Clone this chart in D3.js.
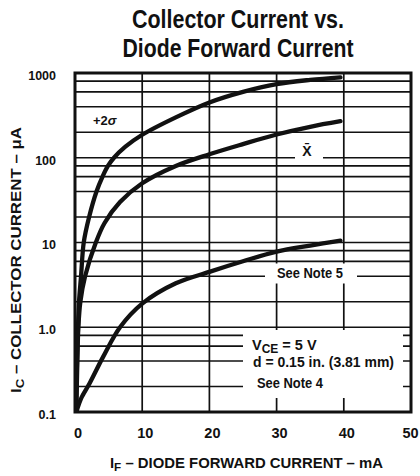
<!DOCTYPE html>
<html><head><meta charset="utf-8">
<script src="https://cdn.jsdelivr.net/npm/d3@7"></script>
<style>body{margin:0;background:#fff}svg{display:block}text{font-family:"Liberation Sans",Arial,sans-serif;fill:#111}</style>
</head><body><svg id="c" width="420" height="476"></svg>
<script>
// ---- data ----
const xTickValues = [0, 10, 20, 30, 40, 50];
const xTickLabels = ["0", "10", "20", "30", "40", "50"];
const yTickValues = [0.1, 1, 10, 100, 1000];
const yTickLabels = ["0.1", "1.0", "10", "100", "1000"];
const decadeStarts = [0.1, 1, 10, 100];
const gridMultipliers = [1, 2, 4, 6, 8];
const xGridValues = [10, 20, 30, 40];

// +2 sigma curve (IF mA, IC uA)
const ifPlus2Sigma = [0.15, 0.3, 0.45, 0.6, 0.9, 1.3, 2.1, 3.2, 4.1, 4.9, 5.8, 7.5, 10, 15, 20, 25, 30, 35, 39.5];
const icPlus2Sigma = [0.1, 0.4, 1.0, 2.0, 4, 10, 20, 40, 60, 80, 100, 135, 187, 300, 450, 600, 740, 830, 890];
// mean curve
const ifMean = [0.2, 0.35, 0.5, 0.8, 1.5, 3.1, 4.4, 6.7, 10, 15, 20, 25, 30, 35, 39.5];
const icMean = [0.1, 0.4, 1.0, 2.0, 4.0, 10, 17, 30, 50, 80, 110, 145, 188, 232, 270];
// lower curve
const ifLow = [0.2, 0.6, 1.0, 2.2, 4.2, 6.7, 10, 15, 20, 25, 30, 35, 39.5];
const icLow = [0.1, 0.125, 0.15, 0.22, 0.45, 1.0, 1.9, 3.3, 4.5, 6.0, 7.8, 9.2, 10.5];

// ---- chart ----
const svg = d3.select("#c");
const x = d3.scaleLinear().domain([0, 50]).range([75, 411]);
const y = d3.scaleLog().domain([0.1, 1000]).range([412, 73]);
const ink = "#111";
const font = '"Liberation Sans",Arial,sans-serif';

// horizontal grid
const hVals = [];
decadeStarts.forEach(d => gridMultipliers.forEach(m => hVals.push(d * m)));
svg.append("g").selectAll("line").data(hVals).join("line")
  .attr("x1", x(0)).attr("x2", x(50))
  .attr("y1", d => y(d)).attr("y2", d => y(d))
  .attr("stroke", ink).attr("stroke-width", 1.7);
// vertical grid
svg.append("g").selectAll("line").data(xGridValues).join("line")
  .attr("x1", d => x(d)).attr("x2", d => x(d))
  .attr("y1", y(0.1)).attr("y2", y(1000))
  .attr("stroke", ink).attr("stroke-width", 1.7);

// white label boxes cutting the grid
const masks = svg.append("g").attr("fill", "#fff");
masks.append("rect").attr("x", 295).attr("y", 150).attr("width", 28).attr("height", 11);   // X-bar
masks.append("rect").attr("x", 265).attr("y", 263.5).attr("width", 92).attr("height", 20); // note 5
masks.append("rect").attr("x", 243).attr("y", 330).attr("width", 160).attr("height", 68);  // conditions

// border
svg.append("rect").attr("x", x(0)).attr("y", y(1000))
  .attr("width", x(50) - x(0)).attr("height", y(0.1) - y(1000))
  .attr("fill", "none").attr("stroke", ink).attr("stroke-width", 3);

// curves
svg.append("clipPath").attr("id", "clip").append("rect")
  .attr("x", x(0)).attr("y", y(1000)).attr("width", x(50) - x(0)).attr("height", y(0.1) - y(1000));
const line = d3.line().x(d => x(d[0])).y(d => y(d[1])).curve(d3.curveCatmullRom.alpha(0.5));
const series = [
  d3.zip(ifPlus2Sigma, icPlus2Sigma),
  d3.zip(ifMean, icMean),
  d3.zip(ifLow, icLow)
];
svg.append("g").attr("clip-path", "url(#clip)").selectAll("path").data(series).join("path")
  .attr("d", line).attr("fill", "none").attr("stroke", ink)
  .attr("stroke-width", 4.3).attr("stroke-linecap", "round");

// axes labels
const xAxis = svg.append("g").attr("transform", `translate(0,${y(0.1)})`)
  .call(d3.axisBottom(x).tickValues(xTickValues).tickFormat((d, i) => xTickLabels[i]).tickSize(0).tickPadding(16));
xAxis.select(".domain").remove();
xAxis.selectAll("text").attr("font-size", 14.5).attr("font-weight", "bold")
  .attr("dx", d => d === 50 ? -1 : 2.5)
  .attr("fill", ink).style("font-family", font);

const yAxis = svg.append("g").attr("transform", `translate(${x(0)},0)`)
  .call(d3.axisLeft(y).tickValues(yTickValues).tickFormat((d, i) => yTickLabels[i]).tickSize(0).tickPadding(19));
yAxis.select(".domain").remove();
yAxis.selectAll("text").attr("font-size", 12.5).attr("font-weight", "bold").attr("dy", "0.5em")
  .attr("fill", ink).style("font-family", font);

// title
svg.append("text").attr("x", 238).attr("y", 28).attr("text-anchor", "middle")
  .attr("font-size", 25).attr("font-weight", "bold")
  .attr("textLength", 212).attr("lengthAdjust", "spacingAndGlyphs").text("Collector Current vs.");
svg.append("text").attr("x", 238).attr("y", 56.5).attr("text-anchor", "middle")
  .attr("font-size", 25).attr("font-weight", "bold")
  .attr("textLength", 231).attr("lengthAdjust", "spacingAndGlyphs").text("Diode Forward Current");

// x title
const xt = svg.append("text").attr("x", 110).attr("y", 467.5)
  .attr("font-size", 14).attr("font-weight", "bold")
  .attr("textLength", 273).attr("lengthAdjust", "spacingAndGlyphs");
xt.append("tspan").text("I");
xt.append("tspan").attr("font-size", 11).attr("dy", 3).text("F");
xt.append("tspan").attr("dy", -3).text(" – DIODE FORWARD CURRENT – mA");

// y title
const yt = svg.append("text").attr("transform", "translate(21,393) rotate(-90)")
  .attr("x", 0).attr("y", 0)
  .attr("font-size", 14).attr("font-weight", "bold")
  .attr("textLength", 266).attr("lengthAdjust", "spacingAndGlyphs");
yt.append("tspan").text("I");
yt.append("tspan").attr("font-size", 11).attr("dy", 3).text("C");
yt.append("tspan").attr("dy", -3).text(" – COLLECTOR CURRENT – μA");

// annotations
const p2 = svg.append("text").attr("x", 93).attr("y", 125).attr("font-size", 13).attr("font-weight", "bold");
p2.append("tspan").text("+2");
p2.append("tspan").attr("font-style", "italic").text("σ");
svg.append("text").attr("x", 307).attr("y", 156).attr("text-anchor", "middle")
  .attr("font-size", 14).attr("font-weight", "bold").text("X̄");
svg.append("text").attr("x", 277).attr("y", 278).attr("font-size", 14).attr("font-weight", "bold")
  .attr("textLength", 66).attr("lengthAdjust", "spacingAndGlyphs").text("See Note 5");
const v = svg.append("text").attr("x", 252).attr("y", 349.5).attr("font-size", 14.5).attr("font-weight", "bold");
v.append("tspan").text("V");
v.append("tspan").attr("font-size", 12).attr("dy", 3).text("CE");
v.append("tspan").attr("dy", -3).text(" = 5 V");
svg.append("text").attr("x", 253).attr("y", 367).attr("font-size", 14.5).attr("font-weight", "bold")
  .attr("textLength", 141).attr("lengthAdjust", "spacingAndGlyphs").text("d = 0.15 in. (3.81 mm)");
svg.append("text").attr("x", 257).attr("y", 388).attr("font-size", 14).attr("font-weight", "bold")
  .attr("textLength", 66).attr("lengthAdjust", "spacingAndGlyphs").text("See Note 4");
</script></body></html>
